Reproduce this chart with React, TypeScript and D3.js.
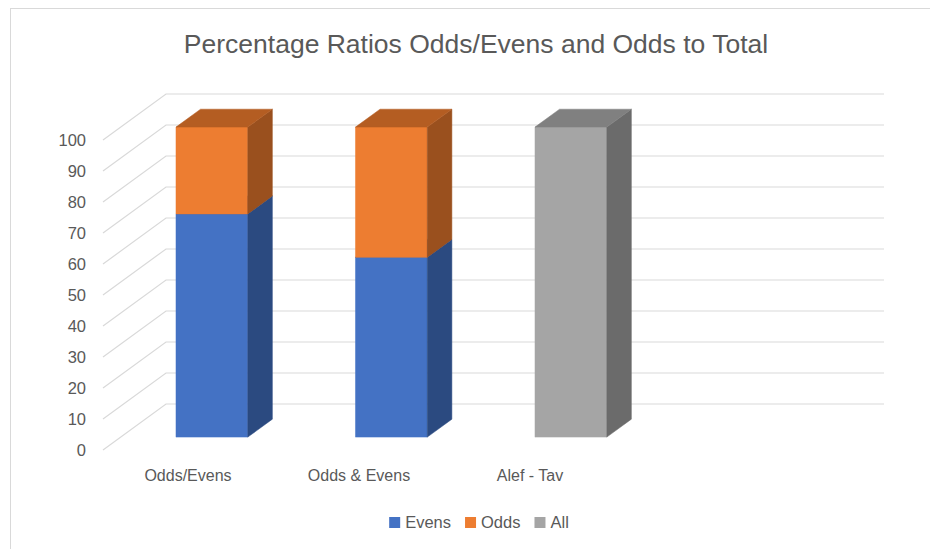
import React, { useEffect, useRef } from "react";
import * as d3 from "d3";

const categories = ["Odds/Evens", "Odds & Evens", "Alef - Tav", ""];
const evens = [72, 58, 0, 0];
const odds = [28, 42, 0, 0];
const all = [0, 0, 100, 0];
const seriesNames = ["Evens", "Odds", "All"];
const yTicks = [0, 10, 20, 30, 40, 50, 60, 70, 80, 90, 100];
const title = "Percentage Ratios Odds/Evens and Odds to Total";

const colors: Record<string, { front: string; side: string; top: string }> = {
  Evens: { front: "#4472C4", side: "#2B4A80", top: "#3A62A8" },
  Odds: { front: "#ED7D31", side: "#9A501E", top: "#B45D22" },
  All: { front: "#A5A5A5", side: "#6B6B6B", top: "#808080" },
};

const W = 930;
const H = 549;
const FONT = "'Liberation Sans', Arial, sans-serif";
const TEXT = "#595959";
const GRID = "#D9D9D9";

export default function App() {
  const ref = useRef<SVGSVGElement | null>(null);

  useEffect(() => {
    const svg = d3.select(ref.current);
    svg.selectAll("*").remove();

    // frame
    svg
      .append("rect")
      .attr("x", 10.5)
      .attr("y", 8.5)
      .attr("width", W)
      .attr("height", H)
      .attr("fill", "#fff")
      .attr("stroke", GRID)
      .attr("stroke-width", 1);

    // title
    svg
      .append("text")
      .attr("x", 476)
      .attr("y", 53)
      .attr("text-anchor", "middle")
      .attr("font-family", FONT)
      .attr("font-size", 26.5)
      .attr("fill", TEXT)
      .text(title);

    // 3D oblique geometry
    const ox = 103;
    const oy = 450;
    const depthX = 63;
    const depthY = -46;
    const floorW = 718;
    const zFront = 0.28;
    const zBack = 0.67;

    const y = d3.scaleLinear().domain([0, 100]).range([0, 310]);
    const x = d3
      .scaleBand<string>()
      .domain(categories)
      .range([1.5, floorW + 1.5])
      .paddingInner(0.6)
      .paddingOuter(0.3);

    const proj = (u: number, v: number, z: number): [number, number] => [
      ox + u + depthX * z,
      oy - y(v) + depthY * z,
    ];

    const gGrid = svg.append("g").attr("stroke", GRID).attr("stroke-width", 1.2).attr("fill", "none");
    yTicks.forEach((t) => {
      const a = proj(0, t, 0);
      const b = proj(0, t, 1);
      const c = proj(floorW, t, 1);
      gGrid.append("path").attr("d", d3.line()([a, b, c]) as string);
    });

    // y labels
    svg
      .append("g")
      .selectAll("text")
      .data(yTicks)
      .join("text")
      .attr("x", 86)
      .attr("y", (d) => proj(0, d, 0)[1])
      .attr("dy", "0.36em")
      .attr("text-anchor", "end")
      .attr("font-family", FONT)
      .attr("font-size", 16.5)
      .attr("fill", TEXT)
      .text((d) => String(d));

    // stacked data
    const table = categories.map((c, i) => ({
      category: c,
      Evens: evens[i],
      Odds: odds[i],
      All: all[i],
    }));
    const stacked = d3.stack<any>().keys(seriesNames)(table);

    const gBars = svg.append("g");
    categories.forEach((cat, ci) => {
      const u0 = x(cat) as number;
      const u1 = u0 + x.bandwidth();
      stacked.forEach((layer) => {
        const [v0, v1] = layer[ci];
        if (v1 - v0 <= 0) return;
        const col = colors[layer.key];
        const poly = (pts: [number, number][], fill: string) =>
          gBars
            .append("path")
            .attr("d", (d3.line()(pts) as string) + "Z")
            .attr("fill", fill)
            .attr("stroke", fill)
            .attr("stroke-width", 0.5);
        poly(
          [proj(u0, v0, zFront), proj(u1, v0, zFront), proj(u1, v1, zFront), proj(u0, v1, zFront)],
          col.front
        );
        poly(
          [proj(u1, v0, zFront), proj(u1, v0, zBack), proj(u1, v1, zBack), proj(u1, v1, zFront)],
          col.side
        );
        poly(
          [proj(u0, v1, zFront), proj(u1, v1, zFront), proj(u1, v1, zBack), proj(u0, v1, zBack)],
          col.top
        );
      });
    });

    // category labels
    const xl = d3.scaleBand<string>().domain(categories).range([102.5, 786.5]);
    svg
      .append("g")
      .selectAll("text")
      .data(categories)
      .join("text")
      .attr("x", (d) => (xl(d) as number) + xl.bandwidth() / 2)
      .attr("y", 481)
      .attr("text-anchor", "middle")
      .attr("font-family", FONT)
      .attr("font-size", 16)
      .attr("fill", TEXT)
      .text((d) => d);

    // legend
    const gLeg = svg.append("g");
    const sq = 11;
    const gapText = 5;
    const gapItem = 14;
    let cx = 0;
    seriesNames.forEach((s) => {
      const g = gLeg.append("g");
      g.append("rect")
        .attr("x", cx)
        .attr("y", 517)
        .attr("width", sq)
        .attr("height", sq)
        .attr("fill", colors[s].front);
      const t = g
        .append("text")
        .attr("x", cx + sq + gapText)
        .attr("y", 528)
        .attr("font-family", FONT)
        .attr("font-size", 16.5)
        .attr("fill", TEXT)
        .text(s);
      const w = (t.node() as SVGTextElement).getComputedTextLength();
      cx += sq + gapText + w + gapItem;
    });
    const total = cx - gapItem;
    gLeg.attr("transform", `translate(${479 - total / 2},0)`);
  }, []);

  return (
    <svg
      ref={ref}
      width={W}
      height={H}
      style={{ position: "absolute", left: 0, top: 0, background: "#fff" }}
    />
  );
}
